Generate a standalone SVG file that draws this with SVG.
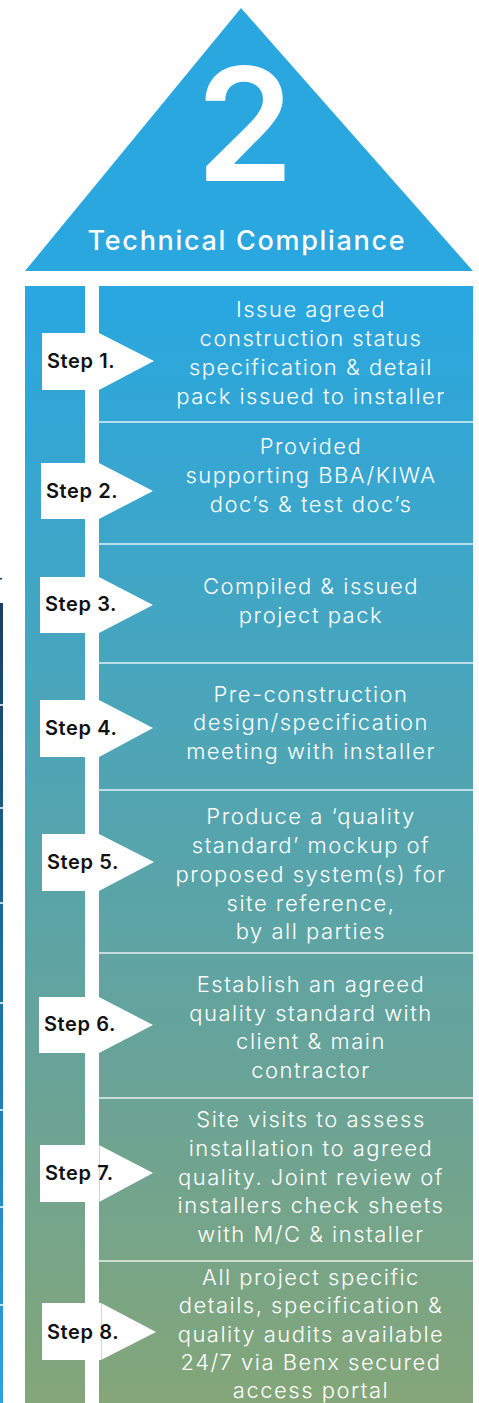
<svg xmlns="http://www.w3.org/2000/svg" width="479" height="1403" viewBox="0 0 479 1403">
<defs>
<linearGradient id="panel" gradientUnits="userSpaceOnUse" x1="0" y1="286" x2="0" y2="1403">
<stop offset="0" stop-color="#28A7E1"/>
<stop offset="0.4" stop-color="#4DA5B7"/>
<stop offset="0.7" stop-color="#68A398"/>
<stop offset="1" stop-color="#84A679"/>
</linearGradient>
<linearGradient id="edge" gradientUnits="userSpaceOnUse" x1="0" y1="603" x2="0" y2="1403">
<stop offset="0" stop-color="#173E64"/>
<stop offset="1" stop-color="#2AA6DF"/>
</linearGradient>
</defs>
<style>
.desc{font-family:Inter,"Open Sans","Liberation Sans",sans-serif;font-size:22px;font-weight:300;letter-spacing:1.5px;fill:#ffffff;text-anchor:middle}
.step{font-family:Inter,"Open Sans","Liberation Sans",sans-serif;font-size:20px;font-weight:600;letter-spacing:0.6px;fill:#111111}
.tag{fill:#ffffff}
.sep{stroke:#ffffff;stroke-width:1.5;stroke-opacity:0.85}
.edgesep{stroke:#ffffff;stroke-width:1.5}
.seam{stroke:#c8c8c8;stroke-width:0.8}
</style>
<rect width="479" height="1403" fill="#ffffff"/>
<g id="edge-strip">
<rect x="0" y="603" width="3" height="800" fill="url(#edge)"/>
<rect x="0" y="578" width="2" height="1.5" fill="#173E64"/>
<line class="edgesep" x1="0" y1="705" x2="3" y2="705"/>
<line class="edgesep" x1="0" y1="808" x2="3" y2="808"/>
<line class="edgesep" x1="0" y1="903" x2="3" y2="903"/>
<line class="edgesep" x1="0" y1="1003" x2="3" y2="1003"/>
<line class="edgesep" x1="0" y1="1110" x2="3" y2="1110"/>
<line class="edgesep" x1="0" y1="1207" x2="3" y2="1207"/>
<line class="edgesep" x1="0" y1="1305" x2="3" y2="1305"/>
</g>
<g id="header">
<polygon points="241,8 473,271 25,271" fill="#2AA7DF"/>
<text x="245" y="181" font-family="Inter,'Open Sans','Liberation Sans',sans-serif" font-size="157" font-weight="600" fill="#ffffff" text-anchor="middle">2</text>
<text x="247" y="250" font-family="Inter,'Open Sans','Liberation Sans',sans-serif" font-size="27" font-weight="500" letter-spacing="1.7" fill="#ffffff" text-anchor="middle">Technical Compliance</text>
</g>
<g id="panel-bg">
<rect x="25" y="286" width="60" height="1117" fill="url(#panel)"/>
<rect x="99" y="286" width="374" height="1117" fill="url(#panel)"/>
</g>
<g id="connectors">
<line class="sep" x1="99" y1="422" x2="473" y2="422"/>
<line class="sep" x1="99" y1="544" x2="473" y2="544"/>
<line class="sep" x1="99" y1="663" x2="473" y2="663"/>
<line class="sep" x1="99" y1="790" x2="473" y2="790"/>
<line class="sep" x1="99" y1="953" x2="473" y2="953"/>
<line class="sep" x1="99" y1="1098" x2="473" y2="1098"/>
<line class="sep" x1="99" y1="1261" x2="473" y2="1261"/>
</g>
<g id="step1">
<polygon class="tag" points="42,333 99,333 154,361 99,390 42,390"/>
<text class="step" x="47" y="368">Step 1.</text>
<text class="desc"><tspan x="311" y="317">Issue agreed</tspan><tspan x="311" y="346">construction status</tspan><tspan x="311" y="375">specification &amp; detail</tspan><tspan x="311" y="404">pack issued to installer</tspan></text>
</g>
<g id="step2">
<polygon class="tag" points="41,463 99,463 153,491 99,519 41,519"/>
<text class="step" x="46" y="498">Step 2.</text>
<text class="desc"><tspan x="311" y="454">Provided</tspan><tspan x="311" y="483">supporting BBA/KIWA</tspan><tspan x="311" y="512">doc’s &amp; test doc’s</tspan></text>
</g>
<g id="step3">
<polygon class="tag" points="40,577 99,577 153,605 99,633 40,633"/>
<text class="step" x="45" y="611">Step 3.</text>
<text class="desc"><tspan x="311" y="594">Compiled &amp; issued</tspan><tspan x="311" y="623">project pack</tspan></text>
</g>
<g id="step4">
<polygon class="tag" points="40,700 99,700 153,728 99,757 40,757"/>
<text class="step" x="45" y="735">Step 4.</text>
<text class="desc"><tspan x="311" y="702">Pre-construction</tspan><tspan x="311" y="730">design/specification</tspan><tspan x="311" y="759">meeting with installer</tspan></text>
</g>
<g id="step5">
<polygon class="tag" points="42,834 99,834 154,862 99,891 42,891"/>
<text class="step" x="47" y="869">Step 5.</text>
<text class="desc"><tspan x="311" y="824">Produce a ‘quality</tspan><tspan x="311" y="853">standard’ mockup of</tspan><tspan x="311" y="882">proposed system(s) for</tspan><tspan x="311" y="911">site reference,</tspan><tspan x="311" y="939">by all parties</tspan></text>
</g>
<g id="step6">
<polygon class="tag" points="39,997 99,997 153,1025 99,1053 39,1053"/>
<text class="step" x="44" y="1031">Step 6.</text>
<text class="desc"><tspan x="311" y="992">Establish an agreed</tspan><tspan x="311" y="1021">quality standard with</tspan><tspan x="311" y="1049">client &amp; main</tspan><tspan x="311" y="1078">contractor</tspan></text>
</g>
<g id="step7">
<polygon class="tag" points="40,1145 99,1145 153,1173 99,1202 40,1202"/>
<line class="seam" x1="99.5" y1="1145" x2="99.5" y2="1202"/>
<text class="step" x="45" y="1180">Step 7.</text>
<text class="desc"><tspan x="311" y="1127">Site visits to assess</tspan><tspan x="311" y="1156">installation to agreed</tspan><tspan x="311" y="1185">quality. Joint review of</tspan><tspan x="311" y="1213">installers check sheets</tspan><tspan x="311" y="1242">with M/C &amp; installer</tspan></text>
</g>
<g id="step8">
<polygon class="tag" points="42,1303 101,1303 156,1332 101,1360 42,1360"/>
<line class="seam" x1="101.5" y1="1303" x2="101.5" y2="1360"/>
<text class="step" x="47" y="1339">Step 8.</text>
<text class="desc"><tspan x="311" y="1285">All project specific</tspan><tspan x="311" y="1313">details, specification &amp;</tspan><tspan x="311" y="1342">quality audits available</tspan><tspan x="311" y="1370">24/7 via Benx secured</tspan><tspan x="311" y="1398">access portal</tspan></text>
</g>
</svg>
